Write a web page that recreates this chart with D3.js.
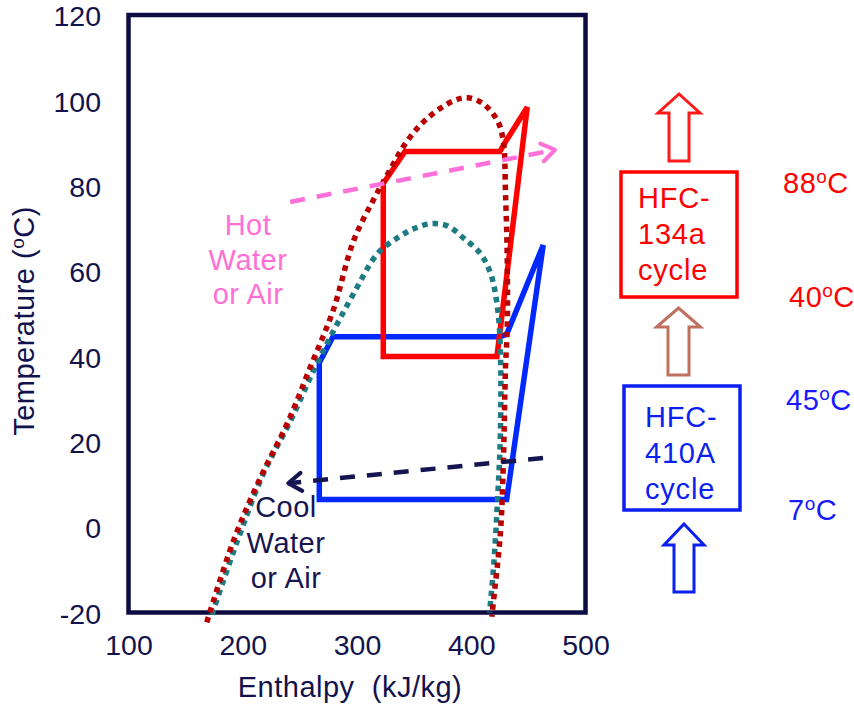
<!DOCTYPE html>
<html>
<head>
<meta charset="utf-8">
<script src="https://cdn.jsdelivr.net/npm/d3@7"></script>
<style>
  body { margin: 0; background: #fff; }
  svg text { font-family: "Liberation Sans", Arial, sans-serif; }
</style>
</head>
<body>
<div id="chart"></div>
<script>
// Axis ticks
const xTicks = [100, 200, 300, 400, 500];
const yTicks = [-20, 0, 20, 40, 60, 80, 100, 120];

// HFC-134a cycle [enthalpy kJ/kg, temperature C]
const cycle134a = [[323, 40], [323, 80.5], [342, 88], [425, 88], [430, 90.3], [449, 98.4], [422.5, 40]];
// HFC-410A cycle
const cycle410a = [[267, 6.5], [267, 38.5], [279, 44.6], [425, 44.6], [431, 45.2], [463, 66.1], [431, 6.5]];

// saturation domes
const dome134a = [[168.5, -22.3], [192, -3.1], [215.5, 11.6], [239, 24.3], [259, 37.4], [279, 50.7],
  [297, 67.1], [314, 76.5], [327, 82.8], [344, 90.5], [362, 95.9], [384.5, 99.9], [397, 100.6],
  [410.5, 99.2], [423, 95.2], [428, 90.5], [430, 78.1], [431.5, 62.4], [431.5, 46.7], [430, 37.4],
  [428, 14], [425.5, -1.5], [419.5, -17.2], [418, -21]];
const dome410a = [[173, -20.5], [195.5, -3.1], [218, 12.5], [242, 25], [262, 36.7], [279.5, 46],
  [297, 54.7], [318, 64.1], [335.5, 67.8], [349.5, 69.9], [364.5, 71.1], [379, 70.6], [393, 67.8],
  [408, 64.1], [417, 59.4], [423, 51.4], [425.5, 41.3], [425.5, 21.9], [423, 6.2], [419.5, -9.5], [416, -20]];

// heat flow arrows (start, tip)
const hotFlow = [[241.5, 76.2], [473.3, 88.4]];
const coolFlow = [[462.8, 16.2], [239.8, 10.3]];

const hotLabel = ['Hot', 'Water', 'or Air'];
const coolLabel = ['Cool', 'Water', 'or Air'];
const temps = [
  { t: '88', color: '#ff0000', x: 783, y: 193 },
  { t: '40', color: '#ff0000', x: 789, y: 307 },
  { t: '45', color: '#1a1aff', x: 786, y: 410 },
  { t: '7', color: '#1a1aff', x: 788, y: 520 }
];

const W = 854, H = 708;
const plotLeft = 128.5, plotRight = 585.5, plotTop = 15, plotBottom = 612.5;
const navy = '#12124d';
const fs = '29px', ls = '0.5px';

const svg = d3.select('#chart').append('svg')
  .attr('width', W).attr('height', H);

const x = d3.scaleLinear().domain([100, 500]).range([plotLeft, plotRight]);
const y = d3.scaleLinear().domain([-20, 120]).range([plotBottom, plotTop]);

// Y axis
const yAxis = svg.append('g')
  .attr('transform', `translate(${plotLeft},0)`)
  .call(d3.axisLeft(y).tickValues(yTicks).tickFormat(d => String(d)).tickSize(0).tickPadding(27.5));
yAxis.select('.domain').remove();
yAxis.selectAll('text')
  .attr('dy', '0.38em')
  .style('font-size', '28.5px')
  .style('fill', navy)
  .style('font-family', '"Liberation Sans", Arial, sans-serif');

// X axis
const xAxis = svg.append('g')
  .attr('transform', `translate(0,${plotBottom})`)
  .call(d3.axisBottom(x).tickValues(xTicks).tickFormat(d => String(d)).tickSize(0).tickPadding(22));
xAxis.select('.domain').remove();
xAxis.selectAll('text')
  .style('font-size', '28.5px')
  .style('fill', navy)
  .style('font-family', '"Liberation Sans", Arial, sans-serif');

// axis titles
svg.append('text')
  .attr('x', 350).attr('y', 697)
  .attr('text-anchor', 'middle')
  .attr('xml:space', 'preserve')
  .style('white-space', 'pre')
  .style('font-size', fs).style('letter-spacing', ls)
  .style('fill', navy)
  .text('Enthalpy  (kJ/kg)');

const yTitle = svg.append('text')
  .attr('transform', 'translate(34,321) rotate(-90)')
  .attr('text-anchor', 'middle')
  .style('font-size', fs).style('letter-spacing', ls)
  .style('fill', navy);
yTitle.append('tspan').text('Temperature (');
yTitle.append('tspan').attr('dy', -10).style('font-size', '19px').text('o');
yTitle.append('tspan').attr('dy', 10).text('C)');

// frame
svg.append('rect')
  .attr('x', plotLeft).attr('y', plotTop)
  .attr('width', plotRight - plotLeft).attr('height', plotBottom - plotTop)
  .attr('fill', 'none')
  .attr('stroke', '#0c0c42')
  .attr('stroke-width', 4.5);

const lineClosed = d3.line().x(d => x(d[0])).y(d => y(d[1])).curve(d3.curveLinearClosed);
const lineSmooth = d3.line().x(d => x(d[0])).y(d => y(d[1])).curve(d3.curveCatmullRom.alpha(0.5));
const lineStraight = d3.line().x(d => x(d[0])).y(d => y(d[1]));

// cycles
svg.append('path')
  .attr('d', lineClosed(cycle410a))
  .attr('fill', 'none').attr('stroke', '#0028ff')
  .attr('stroke-width', 5.5).attr('stroke-linejoin', 'miter');
svg.append('path')
  .attr('d', lineClosed(cycle134a))
  .attr('fill', 'none').attr('stroke', '#ff0000')
  .attr('stroke-width', 5.5).attr('stroke-linejoin', 'miter');

// domes
svg.append('path')
  .attr('d', lineSmooth(dome410a))
  .attr('fill', 'none').attr('stroke', '#1d7b83')
  .attr('stroke-width', 5.5).attr('stroke-dasharray', '5.5,5');
svg.append('path')
  .attr('d', lineSmooth(dome134a))
  .attr('fill', 'none').attr('stroke', '#b80000')
  .attr('stroke-width', 5.5).attr('stroke-dasharray', '5.5,5');

// flow arrows
function flowArrow(pts, color) {
  svg.append('path')
    .attr('d', lineStraight(pts))
    .attr('fill', 'none').attr('stroke', color)
    .attr('stroke-width', 4.5).attr('stroke-dasharray', '15,12');
  const [x0, y0] = [x(pts[0][0]), y(pts[0][1])];
  const [x1, y1] = [x(pts[1][0]), y(pts[1][1])];
  const ang = Math.atan2(y1 - y0, x1 - x0);
  const len = 16, spread = 0.6;
  const a = [x1 - len * Math.cos(ang - spread), y1 - len * Math.sin(ang - spread)];
  const b = [x1 - len * Math.cos(ang + spread), y1 - len * Math.sin(ang + spread)];
  svg.append('path')
    .attr('d', `M${a[0]},${a[1]}L${x1},${y1}L${b[0]},${b[1]}`)
    .attr('fill', 'none').attr('stroke', color)
    .attr('stroke-width', 4).attr('stroke-linecap', 'round').attr('stroke-linejoin', 'round');
}
flowArrow(hotFlow, '#ff70d8');
flowArrow(coolFlow, '#151552');

// annotation labels
function multiLine(lines, cx, y0, dy, color) {
  lines.forEach((l, i) => {
    svg.append('text')
      .attr('x', cx).attr('y', y0 + i * dy)
      .attr('text-anchor', 'middle')
      .style('font-size', fs).style('letter-spacing', ls)
      .style('fill', color)
      .text(l);
  });
}
multiLine(hotLabel, 248, 235, 34.5, '#ff6fd6');
multiLine(coolLabel, 286, 517, 35.5, '#151552');

// right-hand panel: boxes
function box(x0, y0, w, h, color, lines, tx, ty) {
  svg.append('rect')
    .attr('x', x0).attr('y', y0).attr('width', w).attr('height', h)
    .attr('fill', 'none').attr('stroke', color).attr('stroke-width', 3.5);
  lines.forEach((l, i) => {
    svg.append('text')
      .attr('x', tx).attr('y', ty + i * 36)
      .style('font-size', fs).style('letter-spacing', '0.8px')
      .style('fill', color)
      .text(l);
  });
}
box(621, 172, 116, 125, '#ff0000', ['HFC-', '134a', 'cycle'], 638, 208);
box(624, 386, 116, 124, '#0a1ff0', ['HFC-', '410A', 'cycle'], 645, 427);

// hollow block arrows
function blockArrow(cx, tipY, baseY, endY, headHalf, shaftHalf, color) {
  const p = [[cx, tipY], [cx + headHalf, baseY], [cx + shaftHalf, baseY], [cx + shaftHalf, endY],
    [cx - shaftHalf, endY], [cx - shaftHalf, baseY], [cx - headHalf, baseY]];
  svg.append('path')
    .attr('d', 'M' + p.map(d => d.join(',')).join('L') + 'Z')
    .attr('fill', '#fff').attr('stroke', color).attr('stroke-width', 3);
}
blockArrow(679, 94, 113, 161, 21, 10, '#ff1a1a');
blockArrow(678.5, 308, 327, 375, 22, 10.5, '#c0705f');
blockArrow(684, 524, 545, 592, 20, 10, '#0a1ff0');

// temperature labels
temps.forEach(d => {
  const t = svg.append('text')
    .attr('x', d.x).attr('y', d.y)
    .style('font-size', fs).style('letter-spacing', ls)
    .style('fill', d.color);
  t.append('tspan').text(d.t);
  t.append('tspan').attr('dy', -10).style('font-size', '19px').text('o');
  t.append('tspan').attr('dy', 10).text('C');
});
</script>
</body>
</html>
